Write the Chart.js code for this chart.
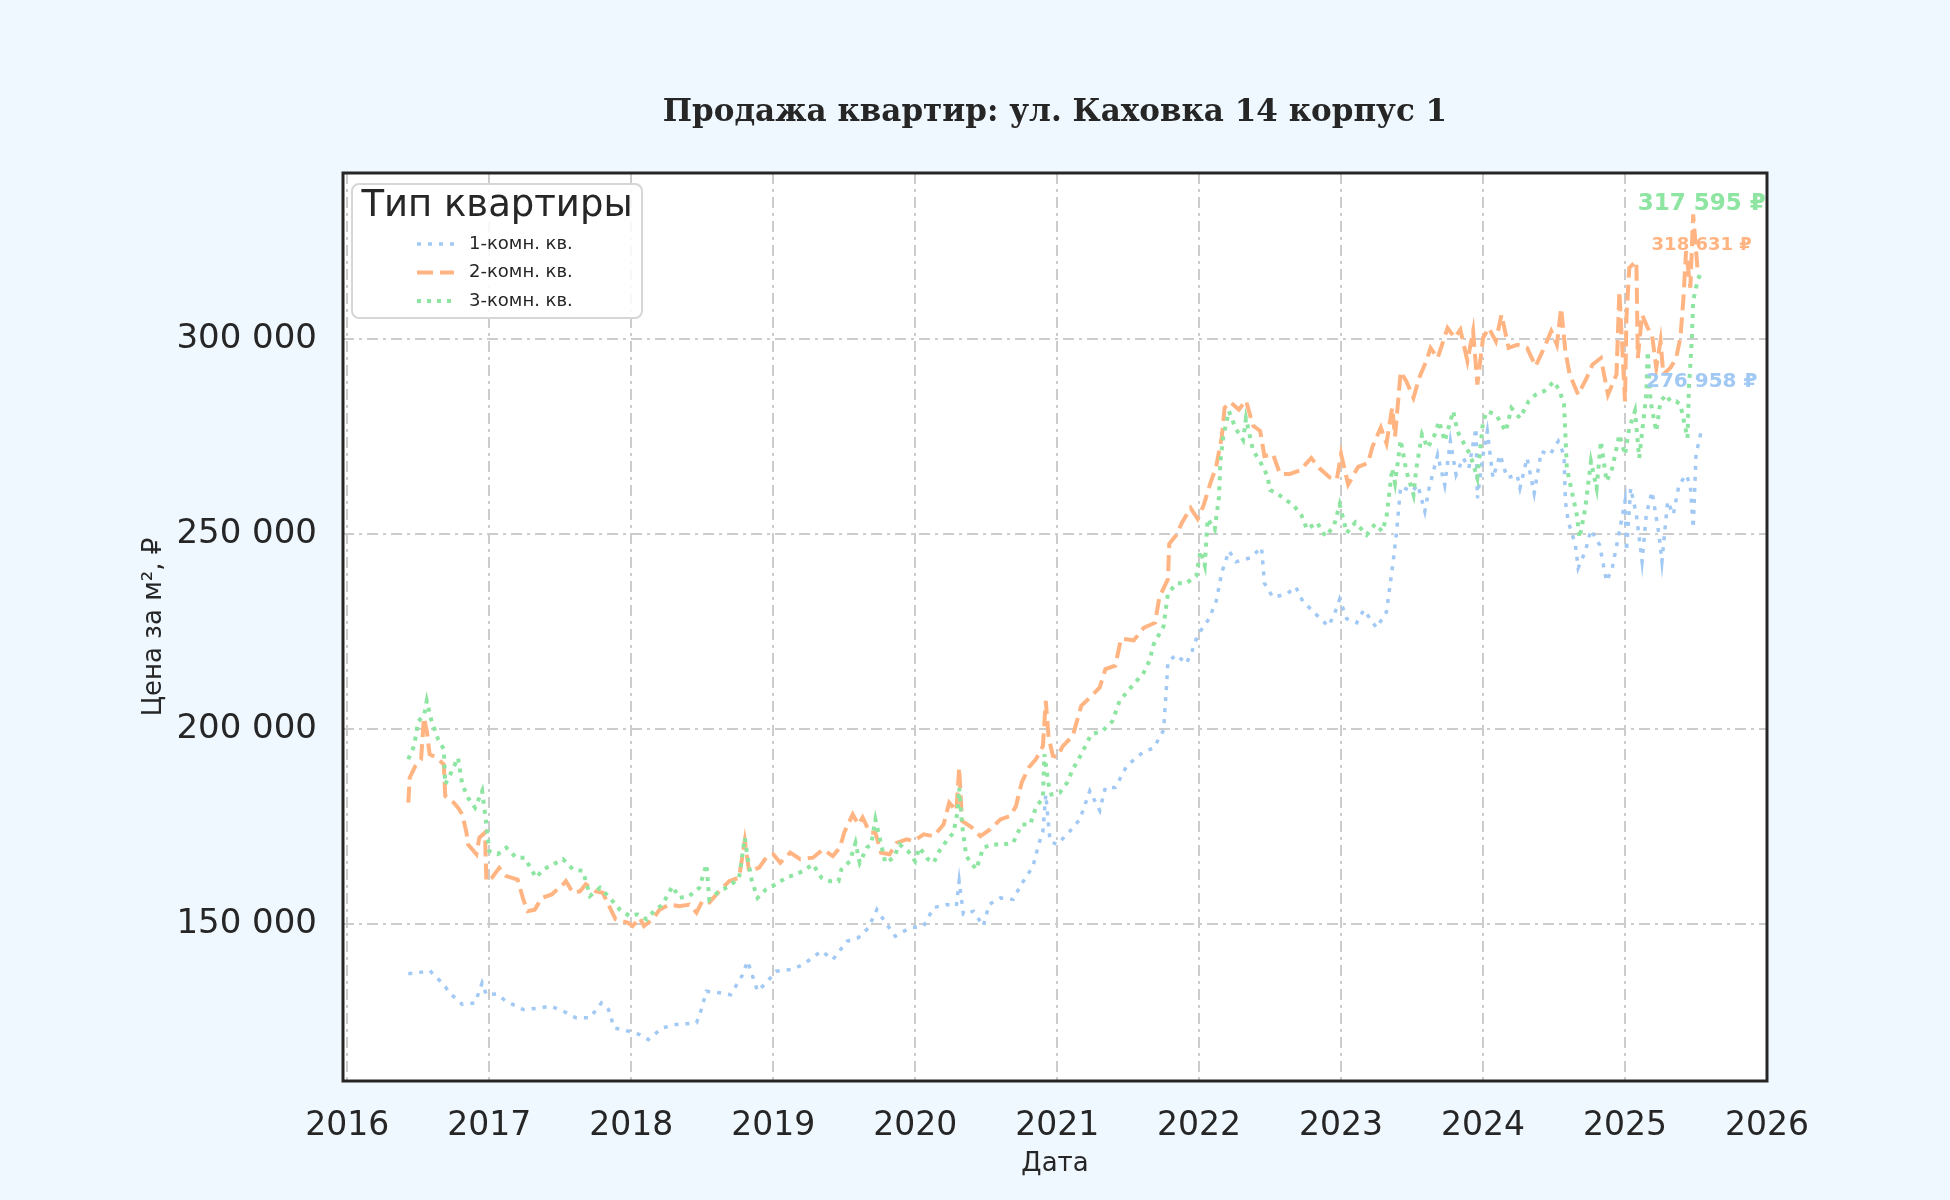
<!DOCTYPE html>
<html lang="ru">
<head>
<meta charset="utf-8">
<title>Продажа квартир: ул. Каховка 14 корпус 1</title>
<script src="https://cdn.jsdelivr.net/npm/chart.js@4.4.1/dist/chart.umd.min.js"></script>
<style>
  html, body { margin: 0; padding: 0; background: #f0f8ff; }
  canvas { display: block; }
</style>
</head>
<body>
<canvas id="priceChart" width="1950" height="1200"></canvas>
<script>
// Данные (даты в долях года, цена за м²)
const chartTitle = 'Продажа квартир: ул. Каховка 14 корпус 1';
const seriesNames = ['1-комн. кв.', '2-комн. кв.', '3-комн. кв.'];
const xTicks = [2016, 2017, 2018, 2019, 2020, 2021, 2022, 2023, 2024, 2025, 2026];
const yTicks = [150000, 200000, 250000, 300000];

const d1 = [2016.43, 2016.50, 2016.58, 2016.68, 2016.72, 2016.81, 2016.90, 2016.95, 2016.98, 2017.05, 2017.12, 2017.24, 2017.36, 2017.43, 2017.52, 2017.61, 2017.71, 2017.79, 2017.84, 2017.88, 2017.99, 2018.06, 2018.12, 2018.22, 2018.32, 2018.46, 2018.49, 2018.53, 2018.62, 2018.70, 2018.78, 2018.82, 2018.89, 2018.95, 2019.02, 2019.13, 2019.21, 2019.34, 2019.42, 2019.52, 2019.60, 2019.67, 2019.73, 2019.80, 2019.86, 2019.96, 2020.06, 2020.13, 2020.22, 2020.29, 2020.31, 2020.34, 2020.41, 2020.48, 2020.52, 2020.60, 2020.69, 2020.74, 2020.83, 2020.87, 2020.90, 2020.92, 2020.95, 2021.00, 2021.09, 2021.16, 2021.23, 2021.30, 2021.34, 2021.41, 2021.49, 2021.61, 2021.68, 2021.75, 2021.77, 2021.78, 2021.84, 2021.91, 2021.95, 2021.99, 2022.07, 2022.12, 2022.16, 2022.21, 2022.26, 2022.36, 2022.44, 2022.46, 2022.52, 2022.62, 2022.68, 2022.73, 2022.83, 2022.91, 2022.95, 2022.99, 2023.04, 2023.11, 2023.16, 2023.25, 2023.32, 2023.35, 2023.37, 2023.39, 2023.42, 2023.50, 2023.54, 2023.59, 2023.62, 2023.68, 2023.73, 2023.77, 2023.81, 2023.86, 2023.90, 2023.95, 2023.96, 2024.00, 2024.03, 2024.07, 2024.12, 2024.17, 2024.24, 2024.26, 2024.31, 2024.36, 2024.41, 2024.47, 2024.53, 2024.57, 2024.58, 2024.60, 2024.65, 2024.67, 2024.72, 2024.76, 2024.82, 2024.87, 2024.91, 2024.96, 2025.00, 2025.01, 2025.04, 2025.08, 2025.12, 2025.15, 2025.19, 2025.24, 2025.26, 2025.30, 2025.34, 2025.38, 2025.43, 2025.46, 2025.48, 2025.50, 2025.54];
const v1 = [137400, 137600, 138200, 134600, 132500, 129500, 129900, 135000, 132000, 132200, 130300, 128200, 128600, 129100, 127800, 126100, 126100, 129900, 128200, 123500, 122600, 121800, 120500, 123500, 124400, 124800, 127800, 132900, 132500, 132000, 136800, 140600, 132900, 135000, 138000, 138500, 139700, 143200, 141000, 145700, 146600, 149100, 153800, 150000, 147000, 149100, 149600, 154300, 155100, 154700, 161100, 152600, 153400, 149600, 155100, 156800, 156400, 159800, 164900, 170500, 173900, 183300, 171300, 170500, 173900, 176900, 184200, 179200, 185100, 185100, 190600, 194300, 195200, 199800, 210800, 217300, 219100, 216800, 220000, 224100, 228300, 232800, 240200, 245700, 242900, 243900, 246600, 237400, 233800, 234700, 236500, 232800, 229200, 226400, 229200, 233300, 228300, 227300, 230600, 226000, 230100, 238300, 243900, 250300, 262200, 260900, 262600, 255800, 261800, 270300, 262600, 273800, 265200, 269500, 266900, 277200, 259200, 270300, 276300, 264400, 270300, 264400, 265200, 261800, 269500, 260500, 271200, 270300, 273800, 270300, 258400, 253200, 247300, 241300, 245600, 251100, 247300, 237900, 241300, 250700, 258400, 245600, 261800, 255000, 243000, 255000, 260900, 249800, 243000, 258400, 255000, 262600, 265200, 262600, 251500, 270300, 276958];

const d2 = [2016.43, 2016.44, 2016.48, 2016.52, 2016.54, 2016.56, 2016.58, 2016.63, 2016.68, 2016.69, 2016.75, 2016.78, 2016.81, 2016.84, 2016.85, 2016.91, 2016.93, 2016.97, 2016.98, 2017.02, 2017.07, 2017.12, 2017.20, 2017.24, 2017.27, 2017.32, 2017.37, 2017.44, 2017.52, 2017.54, 2017.59, 2017.64, 2017.68, 2017.75, 2017.80, 2017.85, 2017.89, 2017.98, 2018.01, 2018.06, 2018.09, 2018.15, 2018.20, 2018.27, 2018.34, 2018.41, 2018.46, 2018.50, 2018.55, 2018.62, 2018.69, 2018.76, 2018.80, 2018.83, 2018.90, 2018.95, 2019.00, 2019.05, 2019.12, 2019.19, 2019.28, 2019.35, 2019.42, 2019.47, 2019.50, 2019.56, 2019.60, 2019.63, 2019.68, 2019.72, 2019.76, 2019.82, 2019.87, 2019.94, 2019.99, 2020.06, 2020.13, 2020.20, 2020.24, 2020.29, 2020.31, 2020.33, 2020.40, 2020.46, 2020.53, 2020.60, 2020.67, 2020.71, 2020.75, 2020.80, 2020.85, 2020.90, 2020.92, 2020.94, 2020.97, 2021.00, 2021.04, 2021.11, 2021.17, 2021.23, 2021.30, 2021.34, 2021.41, 2021.45, 2021.54, 2021.61, 2021.69, 2021.72, 2021.78, 2021.79, 2021.84, 2021.88, 2021.94, 2021.99, 2022.03, 2022.08, 2022.12, 2022.16, 2022.18, 2022.22, 2022.28, 2022.33, 2022.38, 2022.43, 2022.46, 2022.52, 2022.57, 2022.64, 2022.71, 2022.79, 2022.85, 2022.92, 2022.97, 2023.00, 2023.05, 2023.12, 2023.19, 2023.22, 2023.28, 2023.32, 2023.36, 2023.38, 2023.42, 2023.46, 2023.51, 2023.55, 2023.60, 2023.63, 2023.68, 2023.75, 2023.80, 2023.84, 2023.89, 2023.93, 2023.96, 2024.00, 2024.04, 2024.09, 2024.13, 2024.18, 2024.24, 2024.31, 2024.37, 2024.43, 2024.48, 2024.52, 2024.55, 2024.58, 2024.61, 2024.67, 2024.73, 2024.77, 2024.83, 2024.88, 2024.94, 2024.96, 2025.00, 2025.01, 2025.03, 2025.08, 2025.09, 2025.12, 2025.16, 2025.19, 2025.22, 2025.25, 2025.27, 2025.32, 2025.36, 2025.39, 2025.41, 2025.43, 2025.46, 2025.48, 2025.51, 2025.54];
const v2 = [181200, 187600, 190600, 192300, 203000, 199600, 193600, 192700, 191000, 182900, 181200, 179900, 178200, 173500, 170500, 168000, 172200, 173500, 161100, 162000, 164500, 162400, 161500, 156400, 153400, 153800, 156800, 157700, 160300, 161100, 158100, 158500, 160300, 158500, 158100, 154300, 151300, 150400, 149600, 151700, 149600, 151300, 153800, 155100, 154700, 155100, 153000, 156000, 155600, 158500, 161100, 162000, 171400, 163700, 164500, 167100, 168000, 165800, 168400, 166700, 167100, 169200, 167500, 169700, 173500, 178200, 175600, 177400, 173500, 173500, 168400, 168000, 170900, 171800, 171400, 173100, 172600, 175600, 181200, 179100, 190200, 176500, 174800, 172600, 174400, 176900, 177800, 180300, 186300, 190200, 192300, 195700, 207300, 197900, 193200, 192900, 195700, 198300, 206000, 208100, 210700, 215400, 216300, 223200, 222800, 226000, 227300, 233800, 238400, 247500, 249800, 253000, 256700, 253900, 257200, 263100, 267200, 275000, 282400, 283800, 281900, 284200, 277800, 276400, 270000, 270500, 265400, 265400, 266300, 269500, 266800, 264500, 264000, 270500, 262700, 267200, 268200, 272300, 277300, 273200, 282400, 275000, 291600, 289100, 284900, 290000, 294300, 297700, 295100, 302800, 300300, 302400, 294300, 302000, 288300, 300300, 302800, 299400, 306200, 297700, 298500, 297700, 293000, 297700, 302000, 298500, 307900, 296800, 290900, 285700, 290000, 293400, 295100, 285700, 290900, 312200, 284000, 305400, 318200, 319900, 295100, 306200, 302800, 301100, 292600, 299400, 290900, 292600, 295100, 300300, 309700, 322500, 313100, 331900, 318200, 318631];

const d3 = [2016.43, 2016.47, 2016.50, 2016.54, 2016.56, 2016.59, 2016.64, 2016.68, 2016.69, 2016.72, 2016.78, 2016.81, 2016.85, 2016.90, 2016.95, 2016.98, 2017.00, 2017.06, 2017.12, 2017.19, 2017.25, 2017.29, 2017.33, 2017.38, 2017.45, 2017.52, 2017.59, 2017.66, 2017.71, 2017.78, 2017.85, 2017.92, 2017.99, 2018.04, 2018.11, 2018.16, 2018.22, 2018.29, 2018.34, 2018.41, 2018.48, 2018.53, 2018.55, 2018.62, 2018.69, 2018.76, 2018.80, 2018.82, 2018.85, 2018.89, 2018.95, 2019.02, 2019.09, 2019.16, 2019.21, 2019.28, 2019.34, 2019.40, 2019.46, 2019.48, 2019.54, 2019.58, 2019.61, 2019.66, 2019.69, 2019.72, 2019.75, 2019.79, 2019.85, 2019.89, 2019.95, 2020.00, 2020.03, 2020.09, 2020.13, 2020.17, 2020.22, 2020.27, 2020.30, 2020.31, 2020.33, 2020.36, 2020.43, 2020.48, 2020.55, 2020.62, 2020.69, 2020.75, 2020.81, 2020.85, 2020.90, 2020.91, 2020.94, 2020.96, 2021.02, 2021.07, 2021.11, 2021.17, 2021.24, 2021.32, 2021.39, 2021.44, 2021.51, 2021.61, 2021.65, 2021.68, 2021.75, 2021.78, 2021.84, 2021.91, 2021.98, 2022.01, 2022.04, 2022.06, 2022.11, 2022.14, 2022.15, 2022.17, 2022.21, 2022.24, 2022.26, 2022.31, 2022.33, 2022.38, 2022.43, 2022.48, 2022.50, 2022.55, 2022.62, 2022.66, 2022.72, 2022.76, 2022.83, 2022.89, 2022.95, 2022.99, 2023.04, 2023.10, 2023.18, 2023.24, 2023.29, 2023.32, 2023.36, 2023.38, 2023.42, 2023.46, 2023.51, 2023.53, 2023.57, 2023.61, 2023.66, 2023.69, 2023.73, 2023.79, 2023.82, 2023.87, 2023.91, 2023.96, 2024.00, 2024.03, 2024.09, 2024.12, 2024.16, 2024.20, 2024.26, 2024.32, 2024.37, 2024.43, 2024.50, 2024.54, 2024.57, 2024.58, 2024.59, 2024.62, 2024.66, 2024.68, 2024.72, 2024.76, 2024.80, 2024.83, 2024.87, 2024.91, 2024.96, 2025.00, 2025.03, 2025.07, 2025.10, 2025.15, 2025.16, 2025.18, 2025.22, 2025.25, 2025.29, 2025.32, 2025.36, 2025.39, 2025.41, 2025.44, 2025.45, 2025.47, 2025.48, 2025.51, 2025.54];
const v3 = [192300, 195700, 202100, 203400, 207300, 202600, 197400, 194900, 185900, 188000, 192700, 185900, 182500, 179900, 184200, 175600, 168800, 168000, 169700, 167100, 167100, 164500, 162000, 164100, 165400, 166700, 164100, 163700, 157300, 159400, 156800, 153800, 152100, 152600, 151300, 153400, 155100, 159800, 156800, 157300, 159400, 165400, 156400, 158500, 159800, 162000, 172200, 167100, 161100, 156800, 159000, 160300, 162000, 162800, 163700, 165400, 162000, 161100, 161100, 164100, 166200, 170900, 165800, 169700, 170500, 176900, 172200, 165800, 167100, 170500, 168800, 166200, 169700, 166700, 165800, 168800, 171400, 173500, 179100, 185000, 175600, 167500, 164100, 169700, 170500, 170500, 170900, 175600, 175600, 179900, 182500, 193600, 185900, 183300, 183800, 186300, 189700, 193600, 198700, 199600, 202100, 207300, 210300, 214500, 217500, 221800, 226400, 234700, 237400, 237400, 239300, 245700, 242000, 253900, 251200, 259500, 268600, 275000, 281500, 278700, 276900, 274100, 279600, 271400, 268600, 265000, 261300, 260400, 258500, 257600, 254900, 251200, 253000, 249400, 252100, 257600, 250300, 253000, 249800, 252600, 250700, 254400, 266800, 263100, 274100, 266100, 260100, 266900, 275500, 272100, 275500, 278900, 273800, 281500, 276300, 272900, 270300, 264400, 278900, 281500, 280600, 278900, 276300, 282300, 279700, 284000, 285700, 286600, 289100, 286600, 283200, 275500, 266900, 261800, 255000, 249000, 256700, 268600, 261800, 273800, 263500, 266900, 275500, 270300, 277200, 281500, 269500, 285700, 296800, 284000, 276300, 284000, 285700, 284000, 284000, 283200, 279700, 274600, 287400, 299400, 309700, 314800, 317595];

// Стиль серий
const colors = ['#a1c9f4', '#ffb482', '#8de5a1'];
const dashes = [[4, 7], [16, 7], [4, 6]];
const widths = [3.5, 4, 4];
const labelFonts = [20, 18, 23];
const labelShift = [-47, -21, -66];

function toPoints(xs, ys) {
  return xs.map((x, i) => ({ x: x, y: ys[i] }));
}

function formatRub(v) {
  return String(Math.round(v)).replace(/\B(?=(\d{3})+(?!\d))/g, ' ');
}

const allDates = [d1, d2, d3];
const allValues = [v1, v2, v3];

// Фон фигуры и белая область графика
const backgroundPlugin = {
  id: 'bg',
  beforeDraw(chart) {
    const { ctx, chartArea: a } = chart;
    ctx.save();
    ctx.fillStyle = '#f0f8ff';
    ctx.fillRect(0, 0, chart.width, chart.height);
    ctx.fillStyle = '#ffffff';
    ctx.fillRect(a.left, a.top, a.right - a.left, a.bottom - a.top);
    ctx.restore();
  }
};

// Заголовок, рамка, подписи последних значений и легенда
const overlayPlugin = {
  id: 'overlay',
  afterDraw(chart) {
    const { ctx, chartArea: a, scales } = chart;
    ctx.save();

    // заголовок по центру области графика
    ctx.textAlign = 'center';
    ctx.textBaseline = 'middle';
    ctx.fillStyle = '#262626';
    ctx.font = 'bold 31px "DejaVu Serif"';
    ctx.fillText(chartTitle, (a.left + a.right) / 2, a.top - 60);

    // подписи последних цен
    allValues.forEach((vals, i) => {
      const last = vals[vals.length - 1];
      const xs = allDates[i];
      const px = scales.x.getPixelForValue(xs[xs.length - 1]);
      const py = scales.y.getPixelForValue(last) + labelShift[i];
      ctx.font = 'bold ' + labelFonts[i] + 'px "DejaVu Sans"';
      ctx.fillStyle = colors[i];
      ctx.fillText(formatRub(last) + ' ₽', px, py);
    });

    // рамка осей
    ctx.strokeStyle = '#262626';
    ctx.lineWidth = 3;
    ctx.strokeRect(a.left, a.top, a.right - a.left, a.bottom - a.top);

    // легенда
    const lx = a.left + 9, ly = a.top + 11, lw = 290, lh = 134;
    ctx.beginPath();
    ctx.roundRect(lx, ly, lw, lh, 7);
    ctx.fillStyle = 'rgba(255,255,255,0.85)';
    ctx.fill();
    ctx.strokeStyle = '#d6d6d6';
    ctx.lineWidth = 2;
    ctx.stroke();

    ctx.fillStyle = '#262626';
    ctx.font = '37px "DejaVu Sans"';
    ctx.textAlign = 'center';
    ctx.fillText('Тип квартиры', lx + lw / 2, ly + 22);

    ctx.font = '18px "DejaVu Sans"';
    ctx.textAlign = 'left';
    seriesNames.forEach((name, i) => {
      const y = ly + 60 + i * 28.5;
      ctx.beginPath();
      ctx.setLineDash(dashes[i]);
      ctx.strokeStyle = colors[i];
      ctx.lineWidth = widths[i];
      ctx.moveTo(lx + 65, y);
      ctx.lineTo(lx + 102, y);
      ctx.stroke();
      ctx.setLineDash([]);
      ctx.fillStyle = '#262626';
      ctx.fillText(name, lx + 117, y);
    });
    ctx.restore();
  }
};

const gridDash = [11, 5, 3, 5];

new Chart(document.getElementById('priceChart').getContext('2d'), {
  type: 'line',
  data: {
    datasets: seriesNames.map((name, i) => ({
      label: name,
      data: toPoints(allDates[i], allValues[i]),
      borderColor: colors[i],
      backgroundColor: colors[i],
      borderWidth: widths[i],
      borderDash: dashes[i],
      pointRadius: 0,
      tension: 0,
      fill: false,
      order: 2 - i
    }))
  },
  options: {
    responsive: false,
    devicePixelRatio: 1,
    animation: false,
    layout: { padding: { left: 120, right: 183, top: 173, bottom: 19 } },
    plugins: {
      legend: { display: false },
      tooltip: { enabled: false },
      title: { display: false }
    },
    scales: {
      x: {
        type: 'linear',
        min: 2015.97,
        max: 2026.0,
        afterFit(scale) { scale.height = 100; },
        afterBuildTicks(scale) { scale.ticks = xTicks.map(v => ({ value: v })); },
        ticks: {
          color: '#262626',
          font: { family: '"DejaVu Sans"', size: 33 },
          padding: 26,
          maxRotation: 0,
          callback: v => String(v)
        },
        grid: { color: '#cccccc', lineWidth: 2, drawTicks: false },
        border: { display: false, dash: gridDash },
        title: {
          display: true,
          text: 'Дата',
          color: '#262626',
          font: { family: '"DejaVu Sans"', size: 26 },
          padding: { top: 0, bottom: 1 }
        }
      },
      y: {
        min: 109900,
        max: 342500,
        afterFit(scale) { scale.width = 223; },
        afterBuildTicks(scale) { scale.ticks = yTicks.map(v => ({ value: v })); },
        ticks: {
          color: '#262626',
          font: { family: '"DejaVu Sans"', size: 34 },
          padding: 26,
          callback: v => formatRub(v)
        },
        grid: { color: '#cccccc', lineWidth: 2, drawTicks: false },
        border: { display: false, dash: gridDash },
        title: {
          display: true,
          text: 'Цена за м², ₽',
          color: '#262626',
          font: { family: '"DejaVu Sans"', size: 26 },
          padding: { top: 19, bottom: 0 }
        }
      }
    }
  },
  plugins: [backgroundPlugin, overlayPlugin]
});
</script>
</body>
</html>
